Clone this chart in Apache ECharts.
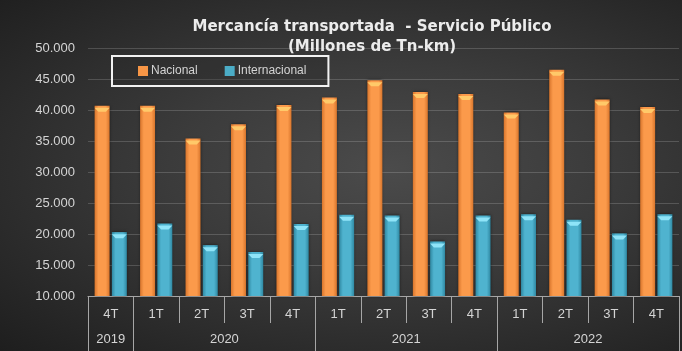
<!DOCTYPE html>
<html>
<head>
<meta charset="utf-8">
<script src="https://cdn.jsdelivr.net/npm/echarts@6/dist/echarts.min.js"></script>
<style>
html, body { margin: 0; padding: 0; background: #1e1e1e; }
#chart {
    width: 682px;
    height: 351px;
    background: radial-gradient(ellipse at 57% 48%, #4b4b4b 0%, #3b3b3b 40%, #1e1e1e 100%);
}
</style>
</head>
<body>
<div id="chart"></div>
<script>
// datos (millones de Tn-km)
const quarters = ['4T', '1T', '2T', '3T', '4T', '1T', '2T', '3T', '4T', '1T', '2T', '3T', '4T']
const years = ['2019', '2020', '2021', '2022']
const yearSpans = [1, 4, 4, 4]
const nacional = [40700, 40700, 35400, 37700, 40800, 42000, 44800, 42900, 42600, 39600, 46500, 41700, 40500]
const internacional = [20300, 21700, 18200, 17100, 21600, 23100, 23000, 18800, 23000, 23200, 22300, 20100, 23200]
const yMin = 10000
const yMax = 50000
const yStep = 5000

// eje de años: puntos cada media categoria
const yearLabels = []
const yearEdges = {}
for (let k = 0; k <= quarters.length * 2; k++) yearLabels.push('')
let start = 0
for (let i = 0; i < years.length; i++) {
    yearEdges[start * 2] = true
    yearLabels[start * 2 + yearSpans[i]] = years[i]
    start += yearSpans[i]
}
yearEdges[start * 2] = true

const font = "'Liberation Sans Narrow', 'Liberation Sans', sans-serif"
const labelColor = '#d4d4d4'

const orange = new echarts.graphic.LinearGradient(0, 0, 1, 0, [
    {offset: 0, color: '#d8752c'},
    {offset: 0.25, color: '#fb9a4b'},
    {offset: 0.75, color: '#fb9a4b'},
    {offset: 1, color: '#d8752c'}
])
const cyan = new echarts.graphic.LinearGradient(0, 0, 1, 0, [
    {offset: 0, color: '#2f88a2'},
    {offset: 0.25, color: '#4fb3cf'},
    {offset: 0.75, color: '#4fb3cf'},
    {offset: 1, color: '#2f88a2'}
])
const capPath = 'path://M0,0 L10,0 L7.5,4 L2.5,4 Z'

const chart = echarts.init(document.getElementById('chart'))
const option = {
    backgroundColor: 'transparent',
    animation: false,
    title: [{
        text: 'Mercancía transportada  - Servicio Público',
        left: 367,
        top: 15,
        textAlign: 'center',
        textStyle: {color: '#ececec', fontSize: 15, fontWeight: 'bold', fontFamily: 'DejaVu Sans'}
    }, {
        text: '(Millones de Tn-km)',
        left: 367,
        top: 35,
        textAlign: 'center',
        textStyle: {color: '#ececec', fontSize: 15, fontWeight: 'bold', fontFamily: 'DejaVu Sans'}
    }],
    legend: {
        left: 112,
        top: 56,
        padding: [9, 22, 9, 26],
        borderColor: '#f2f2f2',
        borderWidth: 2,
        backgroundColor: 'rgba(40,40,40,0.3)',
        itemWidth: 10,
        itemHeight: 10,
        itemGap: 27,
        icon: 'rect',
        textStyle: {color: labelColor, fontSize: 12, fontFamily: font, padding: [0, 0, 0, -2]},
        data: [
            {name: 'Nacional', itemStyle: {color: '#f79646'}},
            {name: 'Internacional', itemStyle: {color: '#4bacc6'}}
        ]
    },
    grid: {left: 88, right: -5, top: 48, bottom: 55, containLabel: false},
    xAxis: [{
        type: 'category',
        data: quarters,
        axisLine: {lineStyle: {color: '#a6a6a6', width: 1}},
        axisTick: {show: true, interval: 0, length: 27, lineStyle: {color: '#a6a6a6'}},
        axisLabel: {color: labelColor, fontSize: 13, fontFamily: font, margin: 12, interval: 0}
    }, {
        type: 'category',
        position: 'bottom',
        boundaryGap: false,
        data: yearLabels.map((v, i) => String(i)),
        axisLine: {show: false},
        axisTick: {
            show: true,
            length: 56,
            interval: function (index) { return !!yearEdges[index] },
            lineStyle: {color: '#a6a6a6'}
        },
        axisLabel: {
            color: labelColor, fontSize: 13, fontFamily: font, margin: 37, interval: 0,
            hideOverlap: false,
            formatter: function (v, i) { return yearLabels[i] }
        }
    }],
    yAxis: {
        type: 'value',
        min: yMin,
        max: yMax,
        interval: yStep,
        axisLine: {show: false},
        axisTick: {show: false},
        splitLine: {lineStyle: {color: 'rgba(255,255,255,0.17)', width: 1}},
        axisLabel: {
            color: labelColor, fontSize: 13, fontFamily: font, margin: 13,
            formatter: function (v) { return String(v).replace(/\B(?=(\d{3})+(?!\d))/g, '.') }
        }
    },
    series: [{
        name: 'Nacional',
        type: 'bar',
        barWidth: 15,
        barGap: '15%',
        itemStyle: {color: orange, shadowBlur: 3, shadowColor: 'rgba(0,0,0,0.55)'},
        data: nacional
    }, {
        name: 'Internacional',
        type: 'bar',
        barWidth: 15,
        barGap: '15%',
        itemStyle: {color: cyan, shadowBlur: 3, shadowColor: 'rgba(0,0,0,0.55)'},
        data: internacional
    }, {
        name: 'capN',
        type: 'pictorialBar',
        symbol: capPath,
        symbolSize: [15, 4],
        symbolPosition: 'end',
        symbolOffset: [0, '50%'],
        barWidth: 15,
        barGap: '15%',
        itemStyle: {color: '#ffc969'},
        z: 3,
        data: nacional
    }, {
        name: 'capI',
        type: 'pictorialBar',
        symbol: capPath,
        symbolSize: [15, 4],
        symbolPosition: 'end',
        symbolOffset: [0, '50%'],
        barWidth: 15,
        barGap: '15%',
        itemStyle: {color: '#8fe4f8'},
        z: 3,
        data: internacional
    }]
}
chart.setOption(option)
window.addEventListener('resize', function () {
    chart.resize()
})
</script>
</body>
</html>
